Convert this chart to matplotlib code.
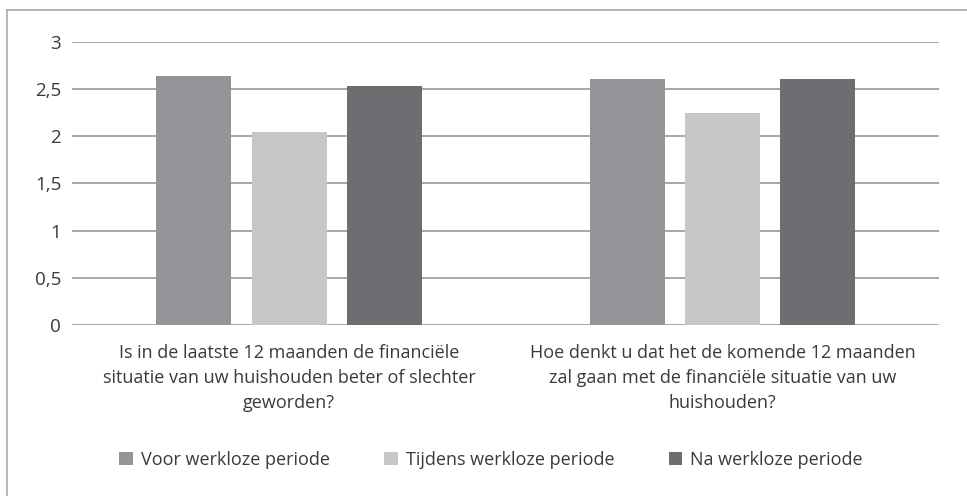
import numpy as np
import matplotlib.pyplot as plt
from matplotlib.patches import Patch
from matplotlib.lines import Line2D

plt.rcParams['font.family'] = ['Open Sans', 'DejaVu Sans']

# data
categories = [
    "Is in de laatste 12 maanden de financiële\nsituatie van uw huishouden beter of slechter\ngeworden?",
    "Hoe denkt u dat het de komende 12 maanden\nzal gaan met de financiële situatie van uw\nhuishouden?",
]
series_names = ["Voor werkloze periode", "Tijdens werkloze periode", "Na werkloze periode"]
voor = [2.64, 2.61]
tijdens = [2.04, 2.25]
na = [2.53, 2.61]
yticks = [0, 0.5, 1, 1.5, 2, 2.5, 3]
ytick_labels = ["0", "0,5", "1", "1,5", "2", "2,5", "3"]

colors = ["#949599", "#c6c7c9", "#6d6e72"]
text_color = "#3a3a3a"

fig = plt.figure(figsize=(9.67, 4.96), dpi=100)
ax = fig.add_axes([0.0748, 0.3448, 0.8965, 0.5711])

x = np.arange(len(categories))
width = 0.173
step = 0.22
for i, vals in enumerate([voor, tijdens, na]):
    ax.bar(x + (i - 1) * step, vals, width, color=colors[i], zorder=3,
           label=series_names[i])

ax.set_xlim(-0.5, 1.5)
ax.set_ylim(0, 3)
ax.set_yticks(yticks)
ax.set_yticklabels(ytick_labels)
ax.set_xticks(x)
ax.set_xticklabels(categories)
ax.tick_params(axis='y', length=0, pad=8, labelsize=13.5, labelcolor=text_color)
ax.tick_params(axis='x', length=0, pad=14, labelsize=13, labelcolor=text_color)
for lbl in ax.get_xticklabels():
    lbl.set_linespacing(1.5)
ax.yaxis.grid(True, color="#a0a0a0", linewidth=1.3)
ax.set_axisbelow(True)
for s in ax.spines.values():
    s.set_visible(False)

handles = [Patch(facecolor=c, edgecolor='none') for c in colors]
fig.legend(handles, series_names, loc='center', bbox_to_anchor=(0.508, 0.073),
           ncol=3, frameon=False, fontsize=13, labelcolor=text_color,
           handlelength=0.75, handleheight=0.75, handletextpad=0.45,
           columnspacing=3.0)

# outer frame (left and top edges visible)
fig.add_artist(Line2D([7 / 967, 1], [1 - 10 / 496, 1 - 10 / 496],
                      transform=fig.transFigure, color="#a8a8a8", linewidth=1.2))
fig.add_artist(Line2D([7 / 967, 7 / 967], [0, 1 - 10 / 496],
                      transform=fig.transFigure, color="#a8a8a8", linewidth=1.2))

fig.savefig("out.png", dpi=100)
